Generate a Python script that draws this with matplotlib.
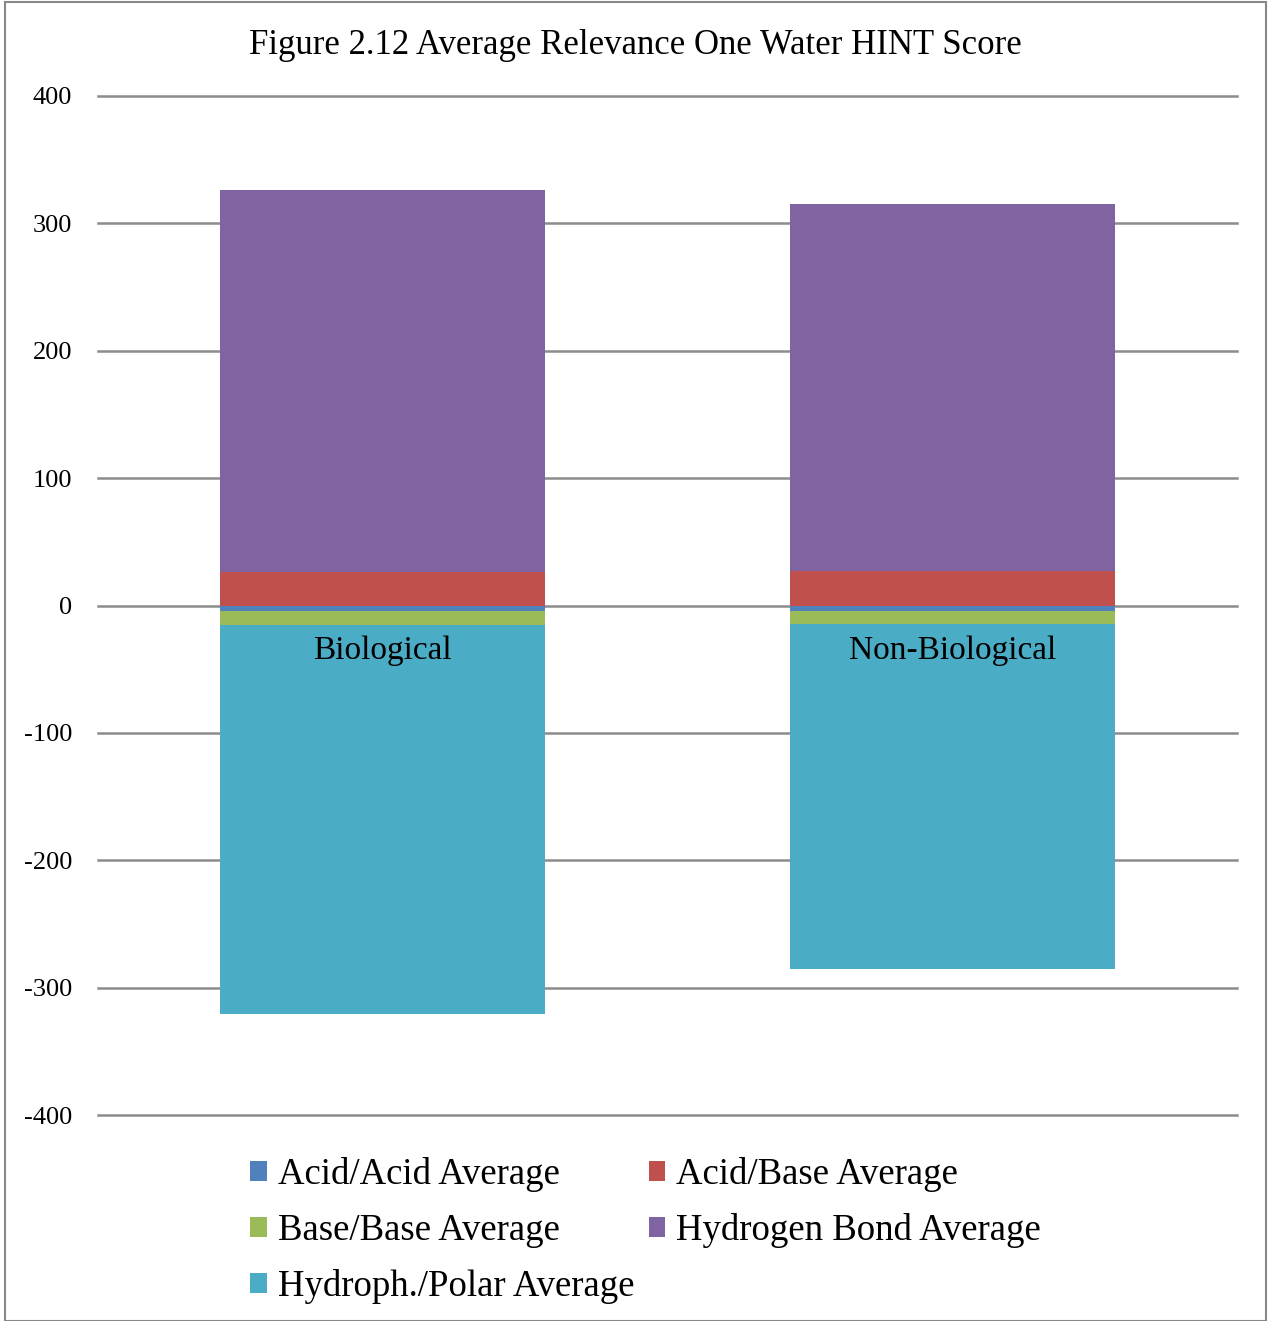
import matplotlib
matplotlib.use("Agg")
import matplotlib.pyplot as plt
from matplotlib.patches import Rectangle
import numpy as np

categories = ["Biological", "Non-Biological"]
series_names = ["Acid/Acid Average", "Acid/Base Average", "Base/Base Average",
                "Hydrogen Bond Average", "Hydroph./Polar Average"]
acid_acid = [-4.0, -4.0]
acid_base = [26.5, 27.0]
base_base = [-11.2, -10.4]
hbond = [300.0, 288.0]
hydroph_polar = [-305.3, -271.3]
yticks = [-400, -300, -200, -100, 0, 100, 200, 300, 400]

colors = {
    "Acid/Acid Average": "#4F81BD",
    "Acid/Base Average": "#C0504D",
    "Base/Base Average": "#9BBB59",
    "Hydrogen Bond Average": "#8064A2",
    "Hydroph./Polar Average": "#4BACC6",
}
values = {
    "Acid/Acid Average": acid_acid,
    "Acid/Base Average": acid_base,
    "Base/Base Average": base_base,
    "Hydrogen Bond Average": hbond,
    "Hydroph./Polar Average": hydroph_polar,
}

serif = ["Liberation Serif", "DejaVu Serif"]
plt.rcParams["font.family"] = serif

fig = plt.figure(figsize=(12.71, 13.21), dpi=100)
fig.patches.append(Rectangle((5 / 1271, 0), 1261 / 1271, 1 - 2 / 1321,
                             transform=fig.transFigure, fill=False,
                             edgecolor="#888888", linewidth=1.5))
ax = fig.add_axes([98 / 1271, 1 - 1115 / 1321, 1139 / 1271, (1115 - 96) / 1321])

x = np.arange(len(categories))
width = 0.57
pos_base = np.zeros(len(categories))
neg_base = np.zeros(len(categories))
handles = {}
for name in series_names:
    v = np.array(values[name])
    bottom = np.where(v >= 0, pos_base, neg_base)
    b = ax.bar(x, v, width, bottom=bottom, color=colors[name], label=name,
               zorder=2, linewidth=0)
    handles[name] = b
    pos_base = pos_base + np.where(v >= 0, v, 0)
    neg_base = neg_base + np.where(v < 0, v, 0)

ax.set_xlim(-0.5, 1.5)
ax.set_ylim(-400, 400)
ax.set_yticks(yticks)
ax.set_yticklabels([str(t) for t in yticks], fontsize=19)
ax.tick_params(axis="y", length=0, pad=18.5)
ax.set_xticks([])
ax.yaxis.grid(True, color="#8c8c8c", linewidth=1.8, zorder=0)
for gl in ax.get_ygridlines():
    gl.set_clip_on(False)
ax.set_axisbelow(True)
for s in ax.spines.values():
    s.set_visible(False)

for xi, cat in zip(x, categories):
    ax.annotate(cat, (xi, 0), xytext=(0, -21.5), textcoords="offset points",
                ha="center", va="top", fontsize=24, zorder=5)

fig.suptitle("Figure 2.12 Average Relevance One Water HINT Score",
             fontsize=25, x=0.5, y=1 - 45 / 1321, va="center")

order = ["Acid/Acid Average", "Base/Base Average", "Hydroph./Polar Average",
         "Acid/Base Average", "Hydrogen Bond Average"]
fig.legend([handles[n] for n in order], order, ncol=2, loc="upper left",
           bbox_to_anchor=(250 / 1271, 1 - 1157 / 1321), frameon=False,
           borderaxespad=0, borderpad=0,
           fontsize=26.5, handlelength=0.45, handleheight=0.45,
           handletextpad=0.3, columnspacing=0.4, labelspacing=0.58)

fig.savefig("out.png", dpi=100)
